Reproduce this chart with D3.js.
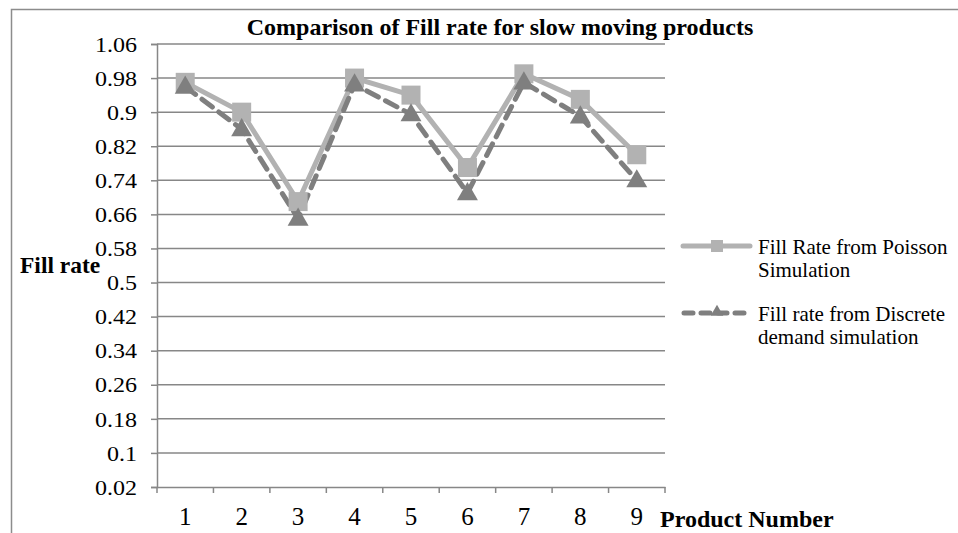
<!DOCTYPE html>
<html lang="en">
<head>
<meta charset="UTF-8"/>
<title>Comparison of Fill rate for slow moving products</title>
<script src="https://d3js.org/d3.v7.min.js"></script>
<style>
	body { margin: 0; background: #fff; }
	text { font-family: "Liberation Serif", "Times New Roman", serif; fill: #000; }
</style>
</head>
<body>
<script>
	var w = 958;
	var h = 533;

	// chart data
	var products = [1, 2, 3, 4, 5, 6, 7, 8, 9];
	var poissonRate = [0.97, 0.90, 0.69, 0.98, 0.94, 0.77, 0.99, 0.93, 0.80];
	var discreteRate = [0.96, 0.86, 0.65, 0.965, 0.895, 0.71, 0.97, 0.89, 0.74];
	var yTicks = [0.02, 0.1, 0.18, 0.26, 0.34, 0.42, 0.5, 0.58, 0.66, 0.74, 0.82, 0.9, 0.98, 1.06];
	var seriesNames = [
		["Fill Rate from Poisson", "Simulation"],
		["Fill rate from Discrete", "demand simulation"]
	];

	// plot area
	var plotLeft = 157, plotRight = 665, plotTop = 44, plotBottom = 487;

	var svg = d3.select("body")
		.append("svg")
		.attr("width", w)
		.attr("height", h);

	// outer chart border (runs off the right / bottom of the picture)
	svg.append("rect")
		.attr("x", 11.5)
		.attr("y", 9.5)
		.attr("width", 1000)
		.attr("height", 600)
		.attr("fill", "none")
		.attr("stroke", "#8c8c8c")
		.attr("stroke-width", 1.5);

	var xScale = d3.scaleBand()
		.domain(products)
		.range([plotLeft, plotRight]);

	var yScale = d3.scaleLinear()
		.domain([0.02, 1.06])
		.range([plotBottom, plotTop]);

	// gridlines
	svg.append("g")
		.selectAll("line")
		.data(yTicks.slice(1))
		.enter()
		.append("line")
		.attr("x1", plotLeft)
		.attr("x2", plotRight)
		.attr("y1", function(d){ return yScale(d); })
		.attr("y2", function(d){ return yScale(d); })
		.attr("stroke", "#878787")
		.attr("stroke-width", 1.5);

	// y axis (labels in the original are a little wide, so stretch them)
	var yStretch = 1.2;
	var yAxis = d3.axisLeft(yScale)
		.tickValues(yTicks)
		.tickSize(6)
		.tickFormat(function(d){ return String(+d.toFixed(2)); });

	var gy = svg.append("g")
		.attr("transform", "translate(" + plotLeft + ",0)")
		.call(yAxis)
		.attr("font-family", "Liberation Serif")
		.attr("font-size", 20);
	gy.selectAll("text")
		.attr("fill", "#000")
		.attr("x", -20 / yStretch)
		.attr("dy", "0.36em")
		.attr("transform", "scale(" + yStretch + ",1)");

	// x axis, ticks sit between categories
	var xAxis = d3.axisBottom(xScale).tickSize(0).tickPadding(20);
	var gx = svg.append("g")
		.attr("transform", "translate(0," + plotBottom + ")")
		.call(xAxis)
		.attr("font-family", "Liberation Serif")
		.attr("font-size", 25);
	gx.selectAll("text")
		.attr("fill", "#000");

	gx.selectAll(".sep")
		.data(products.concat([products.length + 1]))
		.enter()
		.append("line")
		.attr("class", "sep")
		.attr("x1", function(d, i){ return plotLeft + i * xScale.step(); })
		.attr("x2", function(d, i){ return plotLeft + i * xScale.step(); })
		.attr("y1", 0)
		.attr("y2", 6);

	svg.selectAll(".domain, .tick line, .sep")
		.attr("stroke", "#878787")
		.attr("stroke-width", 1.5);

	function cx(d, i){ return xScale(products[i]) + xScale.bandwidth() / 2; }

	var line = d3.line()
		.x(cx)
		.y(function(d){ return yScale(d); });

	// Poisson series
	svg.append("path")
		.datum(poissonRate)
		.attr("d", line)
		.attr("fill", "none")
		.attr("stroke", "#b2b2b2")
		.attr("stroke-width", 5);

	// Discrete series
	svg.append("path")
		.datum(discreteRate)
		.attr("d", line)
		.attr("fill", "none")
		.attr("stroke", "#7f7f7f")
		.attr("stroke-width", 5)
		.attr("stroke-dasharray", "13,8")
		.attr("stroke-linecap", "round");

	var sq = 19;
	svg.selectAll(".sq")
		.data(poissonRate)
		.enter()
		.append("rect")
		.attr("class", "sq")
		.attr("x", function(d, i){ return cx(d, i) - sq / 2; })
		.attr("y", function(d){ return yScale(d) - sq / 2; })
		.attr("width", sq)
		.attr("height", sq)
		.attr("fill", "#b2b2b2");

	var tri = d3.symbol().type(d3.symbolTriangle).size(190);
	svg.selectAll(".tri")
		.data(discreteRate)
		.enter()
		.append("path")
		.attr("class", "tri")
		.attr("d", tri)
		.attr("transform", function(d, i){ return "translate(" + cx(d, i) + "," + (yScale(d) + 1) + ")"; })
		.attr("fill", "#7f7f7f");

	// title
	svg.append("text")
		.attr("x", 500)
		.attr("y", 35)
		.attr("text-anchor", "middle")
		.style("font-size", "24px")
		.style("font-weight", "bold")
		.text("Comparison of Fill rate for slow moving products");

	// axis labels
	svg.append("text")
		.attr("x", 20)
		.attr("y", 273)
		.style("font-size", "23.5px")
		.style("font-weight", "bold")
		.text("Fill rate");

	svg.append("text")
		.attr("x", 660)
		.attr("y", 527)
		.style("font-size", "24px")
		.style("font-weight", "bold")
		.text("Product Number");

	// legend
	var legend = svg.append("g");
	var lgY = [246, 313];

	legend.append("line")
		.attr("x1", 683).attr("x2", 750)
		.attr("y1", lgY[0]).attr("y2", lgY[0])
		.attr("stroke", "#b2b2b2").attr("stroke-width", 5)
		.attr("stroke-linecap", "round");
	legend.append("rect")
		.attr("x", 711).attr("y", lgY[0] - 6)
		.attr("width", 12).attr("height", 12)
		.attr("fill", "#b2b2b2");

	legend.append("line")
		.attr("x1", 684).attr("x2", 750)
		.attr("y1", lgY[1]).attr("y2", lgY[1])
		.attr("stroke", "#7f7f7f").attr("stroke-width", 5)
		.attr("stroke-dasharray", "9,8")
		.attr("stroke-linecap", "round");
	legend.append("path")
		.attr("d", d3.symbol().type(d3.symbolTriangle).size(70))
		.attr("transform", "translate(717," + (lgY[1] - 1) + ")")
		.attr("fill", "#7f7f7f");

	seriesNames.forEach(function(name, i){
		var t = legend.append("text")
			.attr("x", 758)
			.attr("y", lgY[i] + 8)
			.style("font-size", "21px");
		t.append("tspan").attr("x", 758).text(name[0]);
		t.append("tspan").attr("x", 758).attr("dy", 23).text(name[1]);
	});
</script>
</body>
</html>
